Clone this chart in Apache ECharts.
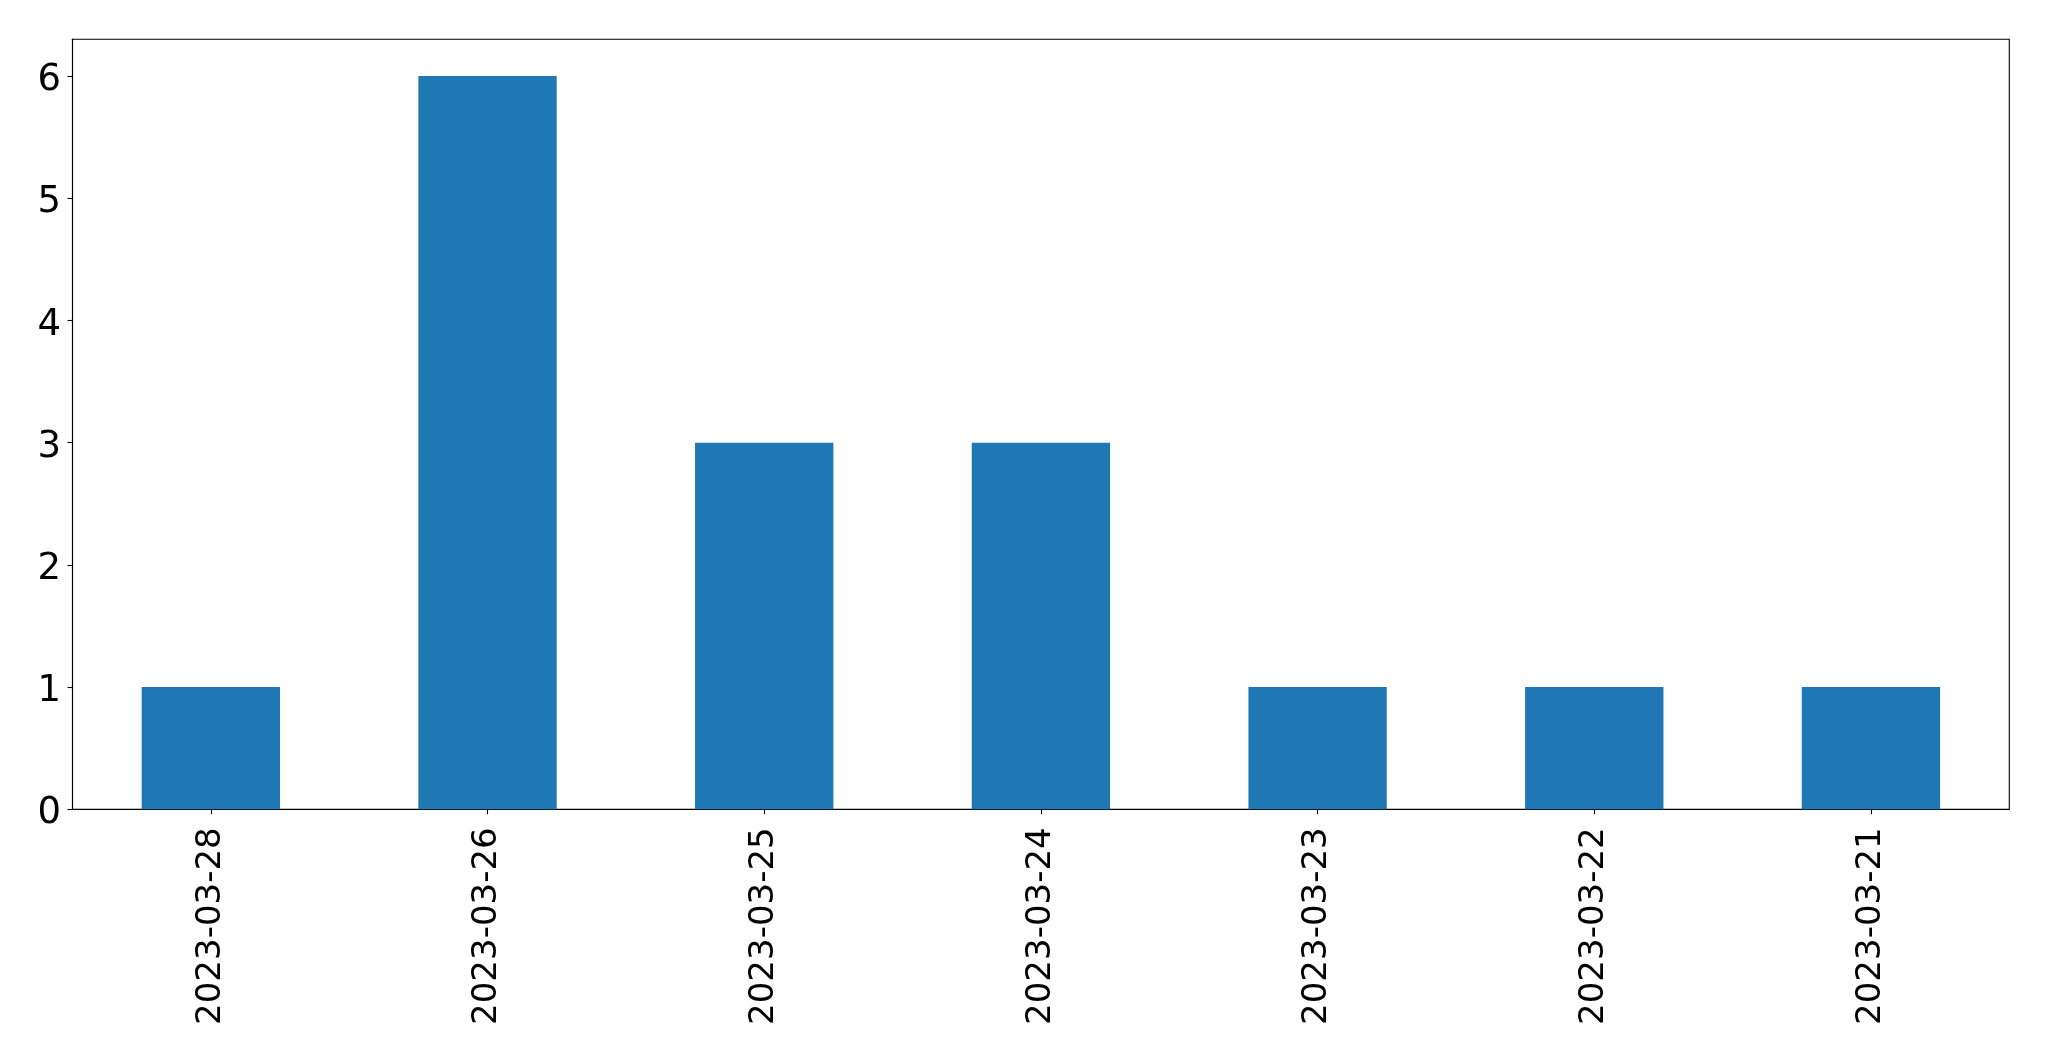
<!DOCTYPE html>
<html>
<head>
<meta charset="utf-8">
<script src="https://cdn.jsdelivr.net/npm/echarts@6/dist/echarts.min.js"></script>
<style>html,body{margin:0;padding:0;background:#fff;}#c{width:2049px;height:1061px;}</style>
</head>
<body>
<div id="c"></div>
<script>
const categories = ['2023-03-28','2023-03-26','2023-03-25','2023-03-24','2023-03-23','2023-03-22','2023-03-21'];
const values = [1, 6, 3, 3, 1, 1, 1];
const yTicks = [0, 1, 2, 3, 4, 5, 6];

const chart = echarts.init(document.getElementById('c'), null, {renderer: 'canvas'});
chart.setOption({
  backgroundColor: '#fff',
  animation: false,
  grid: {left: 72.5, right: 39.7, top: 39.3, bottom: 251.7, show: true, borderColor: '#000', borderWidth: 1.1, backgroundColor: 'transparent'},
  xAxis: {
    type: 'category',
    data: categories,
    boundaryGap: true,
    axisLine: {show: true, lineStyle: {color: '#000', width: 1.1}},
    axisTick: {show: true, alignWithLabel: true, length: 5, lineStyle: {color: '#000', width: 1.1}},
    axisLabel: {rotate: 90, margin: 18, fontSize: 34, color: '#000', fontFamily: 'DejaVu Sans', interval: 0},
    splitLine: {show: false}
  },
  yAxis: {
    type: 'value',
    min: 0,
    max: 6.3,
    interval: 1,
    axisLine: {show: true, lineStyle: {color: '#000', width: 1.1}},
    axisTick: {show: true, length: 5, customValues: yTicks, lineStyle: {color: '#000', width: 1.1}},
    axisLabel: {
      margin: 11.5, customValues: yTicks,
      formatter: v => '{d|' + v + '}',
      rich: {d: {fontSize: 37, color: '#000', fontFamily: 'DejaVu Sans', padding: [9, 0, 0, 0]}}
    },
    splitLine: {show: false}
  },
  series: [{
    type: 'bar',
    data: values,
    barWidth: '50%',
    itemStyle: {color: '#1f77b4'}
  }]
});
</script>
</body>
</html>
